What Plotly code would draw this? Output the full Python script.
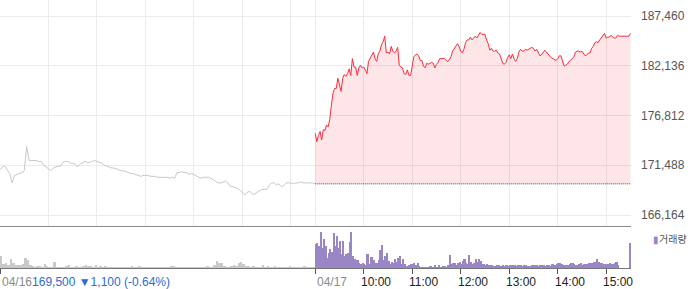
import plotly.graph_objects as go

# ---------------- data ----------------
prev_close = 169500          # 04/16 close (baseline for 04/17)
prev_change = -1100
prev_change_pct = -0.64

day_labels = ["04/16", "04/17"]
hour_labels = ["10:00", "11:00", "12:00", "13:00", "14:00", "15:00"]
session_len = 390            # minutes, 09:00-15:30

ytick_vals = [166164, 171488, 176812, 182136, 187460]
y_range = [164987, 189172]

# 04/16 price, one value every 3 minutes from 09:00 to 15:30
d1_step = 3
d1_price = [
    171000, 171300, 171400, 171000, 170600, 169600, 170400, 170500, 170600, 170700,
    170900, 173500, 172000, 172000, 172000, 172000, 171900, 171900, 171500, 171300,
    171100, 170900, 171200, 171300, 171400, 171400, 171800, 171900, 171900, 171700,
    171700, 171600, 171300, 171600, 171800, 171900, 171800, 171800, 171900, 172000,
    171900, 171800, 171700, 171500, 171400, 171300, 171200, 171200, 171100, 171000,
    170900, 170900, 170800, 170700, 170600, 170600, 170500, 170400, 170300, 170400,
    170400, 170400, 170300, 170300, 170300, 170200, 170200, 170200, 170200, 170200,
    170100, 170200, 170100, 170700, 170700, 170800, 170700, 170700, 170500, 170600,
    170500, 170300, 170200, 170100, 170200, 170200, 170200, 170100, 169900, 169800,
    169600, 169600, 169700, 169800, 169600, 169200, 169200, 169100, 169000, 168800,
    168500, 168300, 168600, 168700, 168400, 168400, 168600, 168800, 168900, 168900,
    168900, 169300, 169600, 169600, 169400, 169500, 169200, 169300, 169600, 169600,
    169600, 169500, 169600, 169600, 169700, 169600, 169600, 169600, 169600, 169600,
    169500,
]

# 04/17 price, one value every 2 minutes from 09:00 to 15:30
d2_step = 2
d2_price = [
    174900, 174000, 174700, 175100, 174200, 175300, 175200, 175800, 175600, 176400,
    177900, 179200, 179700, 179700, 180800, 179900, 179400, 180800, 181200, 181000,
    181300, 181800, 181100, 182900, 182000, 182000, 181100, 181900, 182200, 181900,
    182000, 181700, 181300, 182600, 182900, 183300, 183600, 182900, 182600, 183400,
    183700, 184400, 184700, 185300, 183500, 183600, 183400, 184200, 183700, 183500,
    183700, 184100, 182200, 182000, 181900, 181300, 181200, 181700, 181100, 181100,
    182200, 183100, 183300, 183400, 183200, 182700, 182700, 182100, 181900, 182400,
    182300, 182400, 182500, 182400, 181900, 182300, 182500, 182900, 182900, 182900,
    182900, 182700, 182600, 182800, 183100, 183700, 184000, 184200, 184500, 184200,
    183700, 183500, 183900, 184600, 184900, 184900, 185200, 184900, 185100, 185300,
    185100, 185500, 185700, 185500, 185500, 185500, 184900, 184500, 183800, 184000,
    183700, 183700, 183800, 183500, 183400, 182900, 182400, 182300, 182500, 183000,
    183300, 182900, 183400, 182900, 182600, 182900, 183600, 183900, 183700, 183700,
    183900, 183800, 183900, 184000, 184100, 184000, 183700, 183900, 183500, 183200,
    183300, 183600, 183800, 183600, 183400, 183100, 183000, 182900, 182800, 182700,
    182900, 183200, 183200, 182600, 182100, 182200, 182300, 182600, 182700, 182900,
    183100, 183600, 183700, 183700, 183600, 183700, 183400, 183200, 183300, 183500,
    183500, 184000, 184200, 184600, 184700, 184600, 184900, 185100, 185300, 185600,
    185100, 185200, 185200, 185400, 185200, 185100, 185100, 185400, 185300, 185300,
    185300, 185300, 185300, 185300, 185300, 185600,
]

# volume (relative units), 04/16 in 3-minute bins
d1_vol_step = 3
d1_vol = [
    12, 4, 5, 3, 9, 5, 3, 3, 3, 4,
    10, 8, 3, 2, 1, 2, 2, 1, 4, 2,
    1, 1, 6, 1, 1, 1, 1, 2, 3, 1,
    1, 2, 1, 1, 2, 3, 2, 2, 1, 3,
    1, 2, 1, 2, 1, 1, 1, 1, 1, 1,
    1, 1, 1, 1, 2, 1, 1, 2, 1, 1,
    1, 1, 1, 1, 1, 1, 1, 1, 1, 1,
    2, 2, 1, 1, 1, 1, 1, 1, 1, 1,
    1, 1, 1, 1, 1, 2, 1, 1, 3, 7,
    5, 5, 2, 1, 1, 2, 3, 2, 5, 6,
    4, 2, 2, 1, 2, 1, 1, 1, 3, 1,
    2, 1, 1, 2, 1, 1, 1, 1, 1, 2,
    1, 1, 1, 1, 1, 2, 1, 1, 1, 1,
]
# 04/17 in 2-minute bins (09:00-15:20) plus closing auction at 15:30
d2_vol_step = 2
d2_vol = [
    24, 25, 22, 36, 20, 29, 22, 10, 15, 19,
    16, 35, 22, 32, 20, 27, 14, 27, 12, 14,
    15, 26, 36, 12, 9, 8, 8, 5, 4, 5,
    4, 3, 14, 4, 11, 11, 8, 5, 5, 8,
    18, 23, 8, 12, 15, 7, 4, 6, 5, 9,
    6, 10, 12, 4, 9, 4, 2, 2, 3, 4,
    4, 5, 3, 5, 2, 1, 1, 1, 1, 1,
    1, 2, 1, 1, 3, 1, 3, 1, 1, 2,
    2, 1, 3, 13, 4, 5, 5, 3, 5, 6,
    4, 7, 9, 5, 4, 13, 6, 4, 5, 9,
    6, 9, 7, 4, 4, 3, 4, 3, 3, 3,
    2, 2, 3, 3, 2, 2, 3, 2, 3, 2,
    3, 3, 3, 3, 2, 3, 3, 3, 2, 3,
    3, 2, 2, 2, 3, 3, 3, 3, 2, 3,
    3, 3, 2, 3, 3, 2, 4, 4, 3, 4,
    5, 5, 4, 3, 3, 3, 3, 4, 5, 5,
    4, 3, 3, 4, 5, 3, 4, 4, 4, 5,
    5, 5, 6, 6, 9, 6, 5, 5, 4, 4,
    4, 4, 5, 4, 4, 5, 6, 3, 0, 0,
]
d2_close_vol = 25

# ---------------- derived x positions (session minutes) ----------------
t1 = [i * d1_step for i in range(len(d1_price))]
t2 = [session_len + i * d2_step for i in range(len(d2_price))]
tv1 = [i * d1_vol_step + d1_vol_step / 2 for i in range(len(d1_vol))]
tv2 = [session_len + i * d2_vol_step + d2_vol_step / 2 for i in range(len(d2_vol))]
t_close = 2 * session_len

hour_ticks_day2 = [session_len + 60 * (k + 1) for k in range(len(hour_labels))]
grid_x = [60 * k for k in range(7)] + [session_len] + hour_ticks_day2

RED = "#ff2b3b"
GRAY_LINE = "#c6c8cc"
PURPLE = "#9a85c6"
GRAY_BAR = "#c9c9c9"
FONT = "Liberation Sans, Arial, sans-serif"

fig = go.Figure()

# 04/16 gray line
fig.add_trace(go.Scatter(x=t1, y=d1_price, mode="lines",
                         line=dict(color=GRAY_LINE, width=1), hoverinfo="skip"))
# baseline (previous close) for fill
fig.add_trace(go.Scatter(x=t2, y=[prev_close] * len(t2), mode="lines",
                         line=dict(color="rgba(0,0,0,0)", width=0), hoverinfo="skip"))
# 04/17 red line filled to previous close
fig.add_trace(go.Scatter(x=t2, y=d2_price, mode="lines", fill="tonexty",
                         fillcolor="rgba(240,60,80,0.133)",
                         line=dict(color=RED, width=1), hoverinfo="skip"))
# dotted previous-close line
fig.add_trace(go.Scatter(x=t2, y=[prev_close] * len(t2), mode="lines",
                         line=dict(color="#444", width=1, dash="1px,1px"), hoverinfo="skip"))

# volume
fig.add_trace(go.Bar(x=tv1, y=d1_vol, width=[d1_vol_step] * len(tv1),
                     marker=dict(color=GRAY_BAR, line=dict(width=0)),
                     xaxis="x2", yaxis="y2", hoverinfo="skip"))
fig.add_trace(go.Bar(x=tv2, y=d2_vol, width=[d2_vol_step] * len(tv2),
                     marker=dict(color=PURPLE, line=dict(width=0)),
                     xaxis="x2", yaxis="y2", hoverinfo="skip"))
fig.add_trace(go.Bar(x=[t_close], y=[d2_close_vol], width=[1.2],
                     marker=dict(color=PURPLE, line=dict(width=0)),
                     xaxis="x2", yaxis="y2", hoverinfo="skip"))

W, H = 700, 289
plot_right = 631 / W
main_bottom = 1 - 226 / H
vol_bottom = 1 - 268 / H
x_range = [0, 2 * session_len + 0.7]

fig.update_layout(
    width=W, height=H,
    margin=dict(l=0, r=0, t=0, b=0),
    paper_bgcolor="white", plot_bgcolor="white",
    showlegend=False, bargap=0, barmode="overlay",
    font=dict(family=FONT, size=12, color="#555"),
    xaxis=dict(domain=[0, plot_right], range=x_range, anchor="y",
               tickvals=grid_x, showticklabels=False, ticks="",
               showgrid=True, gridcolor="#ebebeb", gridwidth=1,
               showline=True, linecolor="#8a8a8a", linewidth=1,
               zeroline=False, fixedrange=True),
    yaxis=dict(domain=[main_bottom, 1], range=y_range, anchor="x", side="right",
               tickvals=ytick_vals, ticktext=[f"{v:,}" for v in ytick_vals],
               ticks="", ticklabelstandoff=9,
               tickfont=dict(family=FONT, size=12, color="#555"),
               showgrid=True, gridcolor="#ebebeb", gridwidth=1,
               showline=False, zeroline=False, fixedrange=True),
    xaxis2=dict(domain=[0, plot_right], range=x_range, anchor="y2", matches="x",
                tickvals=[0, session_len] + hour_ticks_day2,
                ticks="outside", ticklen=5, tickcolor="#555", tickwidth=1,
                showticklabels=False, showgrid=False,
                showline=True, linecolor="#777", linewidth=1,
                zeroline=False, fixedrange=True),
    yaxis2=dict(domain=[vol_bottom, main_bottom], range=[0, 42], anchor="x2",
                showticklabels=False, showgrid=False, zeroline=False,
                showline=False, fixedrange=True),
)

label_y = 1 - 281.5 / H
ann = []
ann.append(dict(
    x=0, y=label_y, xref="x2", yref="paper", xanchor="left", yanchor="middle",
    showarrow=False, font=dict(family=FONT, size=12),
    text=(f"<span style='color:#8a8a8a'>{day_labels[0]}</span>"
          f"<span style='color:#2f6bd3'>{prev_close:,} ▼{abs(prev_change):,} "
          f"({prev_change_pct:.2f}%)</span>")))
ann.append(dict(
    x=session_len, y=label_y, xref="x2", yref="paper", xanchor="left", yanchor="middle",
    showarrow=False, font=dict(family=FONT, size=12, color="#8a8a8a"),
    text=day_labels[1]))
for tv, lab in zip(hour_ticks_day2, hour_labels):
    ann.append(dict(
        x=tv, y=label_y, xref="x2", yref="paper", xanchor="left", yanchor="middle",
        xshift=-5, showarrow=False, font=dict(family=FONT, size=12, color="#222"),
        text=lab))
# volume legend
ann.append(dict(
    x=651 / W, y=1 - 238.5 / H, xref="paper", yref="paper", xanchor="left", yanchor="middle",
    showarrow=False, font=dict(family="Noto Sans CJK KR", size=10, color="#555"),
    text=f"<span style='color:{PURPLE}'>▮</span>거래량"))
fig.update_layout(annotations=ann)

fig.write_html("out.html")
